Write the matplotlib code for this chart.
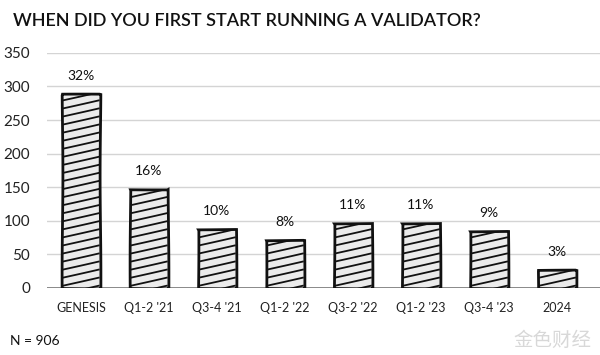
import matplotlib.pyplot as plt
import numpy as np

categories = ['GENESIS', "Q1-2 '21", "Q3-4 '21", "Q1-2 '22", "Q3-2 '22", "Q1-2 '23", "Q3-4 '23", '2024']
counts = [289, 148, 88, 72, 97, 97, 85, 27]
pct_labels = ['32%', '16%', '10%', '8%', '11%', '11%', '9%', '3%']
y_ticks = [0, 50, 100, 150, 200, 250, 300, 350]

plt.rcParams['font.family'] = ['Lato', 'DejaVu Sans']

fig = plt.figure(figsize=(6, 3.55), dpi=100)
ax = fig.add_axes([0.078, 0.189, 0.922, 0.662])

x = np.arange(len(categories))
bars = ax.bar(x, counts, width=0.55, color='#ebebeb', edgecolor='#111111',
              linewidth=2, zorder=3)
for b in bars:
    b.set_sketch_params(0.4, 200, 1)

# shallow hand-drawn hatching, clipped to each bar
step = 12
rise = 13
for b in bars:
    x0, x1 = b.get_x(), b.get_x() + b.get_width()
    h = b.get_height()
    for y0 in np.arange(-rise + 4, h, step):
        ln, = ax.plot([x0, x1], [y0, y0 + rise], color='#111111', lw=1.3,
                      zorder=4, solid_capstyle='butt')
        ln.set_clip_path(b)
        ln.set_sketch_params(0.3, 150, 1)

for xi, c, p in zip(x, counts, pct_labels):
    ax.text(xi, c + 17, p, ha='center', va='bottom', fontsize=10, color='#111111')

ax.set_xlim(-0.5, 7.63)
ax.set_ylim(0, 350)
ax.set_yticks(y_ticks)
ax.set_yticklabels([str(v) for v in y_ticks], fontsize=11, color='#222222')
ax.set_xticks(x)
ax.set_xticklabels(categories, fontsize=9, color='#222222')
ax.tick_params(axis='both', length=0)
ax.tick_params(axis='y', pad=12)
ax.tick_params(axis='x', pad=10)
for s in ax.spines.values():
    s.set_visible(False)
ax.grid(axis='y', color='#d4d4d4', lw=1, zorder=0)
ax.set_axisbelow(True)
ax.axhline(0, color='#777777', lw=1.2, zorder=2)

fig.text(0.022, 0.942, 'WHEN DID YOU FIRST START RUNNING A VALIDATOR?', fontsize=13,
         fontweight='semibold', color='#111111', va='center', ha='left')
fig.text(0.017, 0.04, 'N = 906', fontsize=10, color='#111111', va='center')
fig.text(0.985, 0.04, '金色财经', fontsize=14, color='#d8d8d8', ha='right', va='center',
         family=['Noto Sans CJK SC', 'DejaVu Sans'])

fig.savefig('out.png', dpi=100)
